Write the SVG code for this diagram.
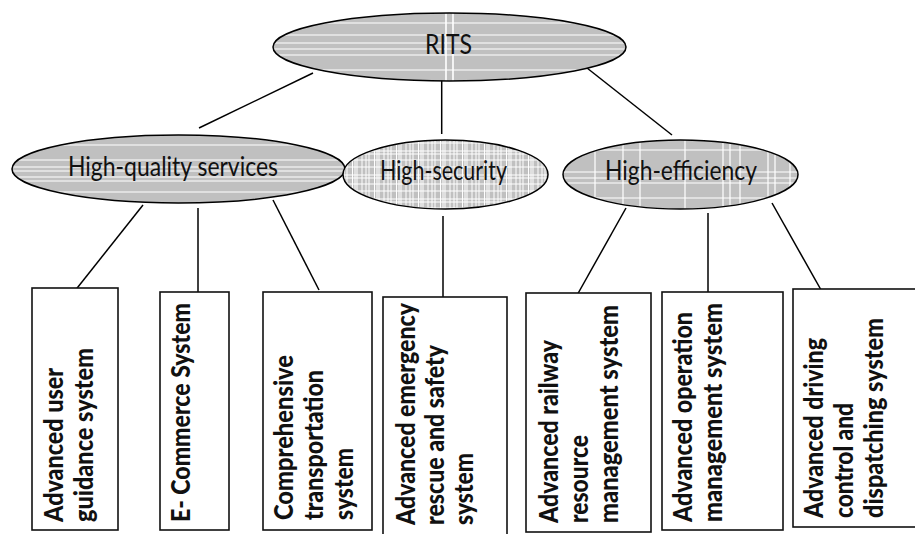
<svg xmlns="http://www.w3.org/2000/svg" width="915" height="534" viewBox="0 0 915 534">
  <style>
    .oval { fill: none; stroke: #000; stroke-width: 1.5; }
    .base { fill: #c0c0c0; }
    .wl { stroke: #fff; stroke-width: 1.2; }
    .box { fill: #fff; stroke: #111; stroke-width: 1.6; }
    .edge { stroke: #000; stroke-width: 1.5; fill: none; }
    .lbl { font-family: Lato, "Liberation Sans", sans-serif; font-size: 26px; fill: #111; }
    .vt { font-family: Lato, "Liberation Sans", sans-serif; font-size: 26px; font-weight: 900; fill: #111; }
  </style>
  <defs>
    <clipPath id="clipRits"><ellipse cx="449.5" cy="47" rx="176.5" ry="34"/></clipPath>
    <clipPath id="clipQual"><ellipse cx="178.5" cy="169" rx="166.5" ry="34"/></clipPath>
    <clipPath id="clipEff"><ellipse cx="680.5" cy="174.5" rx="117.5" ry="34.5"/></clipPath>
    <!-- plaid hatch for the security oval -->
    <pattern id="plaid" patternUnits="userSpaceOnUse" x="343" y="140" width="22" height="24">
      <rect width="22" height="24" fill="#c0c0c0"/>
      <g stroke="#fff" stroke-width="1">
        <line x1="1" y1="0" x2="1" y2="24"/>
        <line x1="4" y1="0" x2="4" y2="24"/>
        <line x1="9.5" y1="0" x2="9.5" y2="24"/>
        <line x1="12" y1="0" x2="12" y2="24"/>
        <line x1="14" y1="0" x2="14" y2="24"/>
        <line x1="19" y1="0" x2="19" y2="24"/>
        <line x1="0" y1="3" x2="22" y2="3"/>
        <line x1="0" y1="11" x2="22" y2="11"/>
        <line x1="0" y1="14" x2="22" y2="14"/>
        <line x1="0" y1="20" x2="22" y2="20"/>
      </g>
    </pattern>
  </defs>

  <!-- connectors -->
  <g id="connectors">
    <line class="edge" x1="313" y1="73" x2="199" y2="128"/>
    <line class="edge" x1="441.7" y1="78" x2="441.7" y2="134"/>
    <line class="edge" x1="587" y1="68" x2="672" y2="135"/>
    <line class="edge" x1="143" y1="205" x2="74" y2="292"/>
    <line class="edge" x1="198" y1="208" x2="198" y2="292"/>
    <line class="edge" x1="273" y1="200" x2="319" y2="290"/>
    <line class="edge" x1="443" y1="216" x2="443" y2="298"/>
    <line class="edge" x1="626" y1="208" x2="576" y2="297"/>
    <line class="edge" x1="708" y1="213" x2="708" y2="299"/>
    <line class="edge" x1="772" y1="203" x2="825" y2="297"/>
  </g>

  <!-- top node -->
  <g id="rits">
    <ellipse class="base" cx="449.5" cy="47" rx="176.5" ry="34"/>
    <g clip-path="url(#clipRits)" class="wl">
      <line x1="270" y1="23" x2="630" y2="23"/>
      <line x1="270" y1="35" x2="630" y2="35"/>
      <line x1="270" y1="43" x2="630" y2="43"/>
      <line x1="270" y1="49" x2="630" y2="49"/>
      <line x1="270" y1="55" x2="630" y2="55"/>
      <line x1="270" y1="70" x2="630" y2="70"/>
      <line x1="446" y1="10" x2="446" y2="85" stroke-width="1.6"/>
      <line x1="453" y1="10" x2="453" y2="85" stroke-width="1.6"/>
    </g>
    <ellipse class="oval" cx="449.5" cy="47" rx="176.5" ry="34"/>
    <text class="lbl" x="425" y="54" textLength="47" lengthAdjust="spacingAndGlyphs">RITS</text>
  </g>

  <!-- second level -->
  <g id="quality">
    <ellipse class="base" cx="178.5" cy="169" rx="166.5" ry="34"/>
    <g clip-path="url(#clipQual)" class="wl">
      <line x1="10" y1="145" x2="350" y2="145"/>
      <line x1="10" y1="160" x2="350" y2="160"/>
      <line x1="10" y1="167" x2="350" y2="167"/>
      <line x1="10" y1="171" x2="350" y2="171"/>
      <line x1="10" y1="177" x2="350" y2="177"/>
      <line x1="10" y1="181" x2="350" y2="181"/>
      <line x1="10" y1="192" x2="350" y2="192"/>
    </g>
    <ellipse class="oval" cx="178.5" cy="169" rx="166.5" ry="34"/>
    <text class="lbl" x="68" y="176" textLength="210" lengthAdjust="spacingAndGlyphs">High-quality services</text>
  </g>

  <g id="security">
    <ellipse cx="445.5" cy="174.5" rx="102.5" ry="34.5" fill="url(#plaid)"/>
    <ellipse class="oval" cx="445.5" cy="174.5" rx="102.5" ry="34.5"/>
    <text class="lbl" x="380" y="180" textLength="127" lengthAdjust="spacingAndGlyphs">High-security</text>
  </g>

  <g id="efficiency">
    <ellipse class="base" cx="680.5" cy="174.5" rx="117.5" ry="34.5"/>
    <g clip-path="url(#clipEff)" class="wl">
      <line x1="595" y1="138" x2="595" y2="212"/>
      <line x1="623" y1="138" x2="623" y2="212"/>
      <line x1="640" y1="138" x2="640" y2="212"/>
      <line x1="685" y1="138" x2="685" y2="212"/>
      <line x1="723" y1="138" x2="723" y2="212"/>
      <line x1="730" y1="138" x2="730" y2="212"/>
      <line x1="740" y1="138" x2="740" y2="212"/>
      <line x1="768" y1="138" x2="768" y2="212"/>
      <line x1="775" y1="138" x2="775" y2="212"/>
      <line x1="790" y1="138" x2="790" y2="212"/>
      <line x1="560" y1="150" x2="800" y2="150"/>
      <line x1="560" y1="172" x2="800" y2="172"/>
      <line x1="560" y1="178" x2="800" y2="178"/>
      <line x1="560" y1="183" x2="800" y2="183"/>
      <line x1="560" y1="198" x2="800" y2="198"/>
    </g>
    <ellipse class="oval" cx="680.5" cy="174.5" rx="117.5" ry="34.5"/>
    <text class="lbl" x="605" y="180" textLength="152" lengthAdjust="spacingAndGlyphs">High-efficiency</text>
  </g>

  <!-- leaf systems (vertical text) -->
  <g id="user-guidance">
    <rect class="box" x="32" y="288" width="86" height="242"/>
    <text class="vt" transform="translate(63 522) rotate(-90)" textLength="154" lengthAdjust="spacingAndGlyphs">Advanced user</text>
    <text class="vt" transform="translate(93 522) rotate(-90)" textLength="174" lengthAdjust="spacingAndGlyphs">guidance system</text>
  </g>

  <g id="e-commerce">
    <rect class="box" x="160" y="292" width="69" height="238"/>
    <text class="vt" transform="translate(190 522) rotate(-90)" textLength="219" lengthAdjust="spacingAndGlyphs">E- Commerce System</text>
  </g>

  <g id="transportation">
    <rect class="box" x="263" y="292" width="109" height="238"/>
    <text class="vt" transform="translate(293 520) rotate(-90)" textLength="165" lengthAdjust="spacingAndGlyphs">Comprehensive</text>
    <text class="vt" transform="translate(323 520) rotate(-90)" textLength="150" lengthAdjust="spacingAndGlyphs">transportation</text>
    <text class="vt" transform="translate(353 520) rotate(-90)" textLength="72" lengthAdjust="spacingAndGlyphs">system</text>
  </g>

  <g id="emergency">
    <rect class="box" x="383" y="297" width="124" height="250"/>
    <text class="vt" transform="translate(415 525) rotate(-90)" textLength="222" lengthAdjust="spacingAndGlyphs">Advanced emergency</text>
    <text class="vt" transform="translate(444 525) rotate(-90)" textLength="180" lengthAdjust="spacingAndGlyphs">rescue and safety</text>
    <text class="vt" transform="translate(473 525) rotate(-90)" textLength="72" lengthAdjust="spacingAndGlyphs">system</text>
  </g>

  <g id="railway-resource">
    <rect class="box" x="526" y="293" width="125" height="239"/>
    <text class="vt" transform="translate(558 523) rotate(-90)" textLength="183" lengthAdjust="spacingAndGlyphs">Advanced railway</text>
    <text class="vt" transform="translate(588 523) rotate(-90)" textLength="88" lengthAdjust="spacingAndGlyphs">resource</text>
    <text class="vt" transform="translate(618 523) rotate(-90)" textLength="218" lengthAdjust="spacingAndGlyphs">management system</text>
  </g>

  <g id="operation">
    <rect class="box" x="662" y="292" width="121" height="238"/>
    <text class="vt" transform="translate(692 522) rotate(-90)" textLength="210" lengthAdjust="spacingAndGlyphs">Advanced operation</text>
    <text class="vt" transform="translate(722 522) rotate(-90)" textLength="219" lengthAdjust="spacingAndGlyphs">management system</text>
  </g>

  <g id="driving-control">
    <rect class="box" x="793" y="289" width="140" height="238"/>
    <text class="vt" transform="translate(823 518) rotate(-90)" textLength="180" lengthAdjust="spacingAndGlyphs">Advanced driving</text>
    <text class="vt" transform="translate(853 518) rotate(-90)" textLength="115" lengthAdjust="spacingAndGlyphs">control and</text>
    <text class="vt" transform="translate(883 518) rotate(-90)" textLength="200" lengthAdjust="spacingAndGlyphs">dispatching system</text>
  </g>
</svg>
